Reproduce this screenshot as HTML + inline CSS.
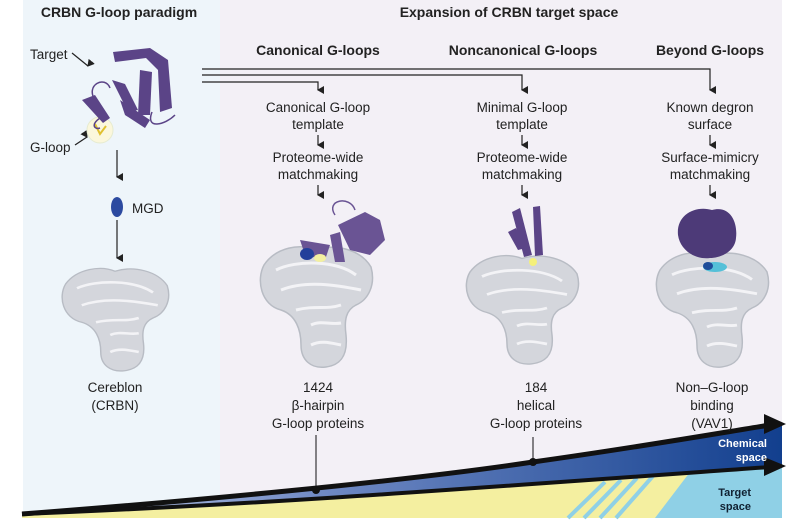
<!DOCTYPE html>
<html><head><meta charset="utf-8"><style>
body{margin:0;background:#fff;}
svg{display:block;font-family:"Liberation Sans",sans-serif;}
</style></head><body>
<svg width="800" height="524" viewBox="0 0 800 524" xmlns="http://www.w3.org/2000/svg">
<defs>
<marker id="ah" markerWidth="8" markerHeight="8" refX="4" refY="6" orient="auto" markerUnits="userSpaceOnUse"><path d="M0,0 L8,0 L4,7 z" fill="#222"/></marker>
<g id="blob">
<path d="M-52,-40 C-40,-58 -15,-62 0,-55 C20,-62 45,-55 55,-38 C60,-20 52,-5 40,0 C30,5 28,15 30,30 C32,50 25,60 10,62 C-5,64 -15,55 -15,40 C-15,25 -20,10 -35,5 C-55,0 -60,-25 -52,-40 z" fill="#d4d6dc" stroke="#b8bcc4" stroke-width="1.5"/>
<path d="M-40,-35 C-20,-45 20,-45 40,-30 M-35,-15 C-10,-25 20,-20 45,-15 M-20,5 C0,0 10,5 25,0 M-5,20 C5,15 15,20 25,18 M-5,40 C5,35 15,38 25,40" fill="none" stroke="#f3f3f6" stroke-width="3"/>
</g>
<linearGradient id="bg" x1="0" x2="1" y1="0" y2="0"><stop offset="0" stop-color="#c8d0ea"/><stop offset="0.4" stop-color="#6f89c4"/><stop offset="1" stop-color="#123f8e"/></linearGradient>
</defs>
<rect x="23" y="0" width="197" height="518" fill="#eef5fa"/>
<rect x="220" y="0" width="562" height="518" fill="#f3f0f6"/>

<!-- bottom wedge -->
<path d="M22,514 C250,505 450,490 780,465 L780,518 L22,518 z" fill="#f4efa0"/>
<path d="M655,518 L782,518 L782,465 L690,472 z" fill="#8fd0e6"/>
<g stroke="#8fd0e6" stroke-width="4"><line x1="568" y1="518" x2="605" y2="482"/><line x1="584" y1="518" x2="621" y2="480"/><line x1="600" y1="518" x2="637" y2="478"/><line x1="616" y1="518" x2="653" y2="476"/></g>
<path d="M22,514 C180,502 400,482 533,462 C640,447 720,432 782,424 L782,466 C450,490 250,505 22,514 z" fill="url(#bg)"/>
<path d="M22,514 C180,502 400,482 533,462 C640,447 720,433 770,425" fill="none" stroke="#111" stroke-width="5"/>
<path d="M764,414 L786,424 L764,434 z" fill="#111"/>
<path d="M22,514 C250,505 450,490 770,467" fill="none" stroke="#111" stroke-width="4"/>
<path d="M764,457 L786,466 L764,476 z" fill="#111"/>
<text x="767" y="447" font-size="11" font-weight="bold" fill="#fff" text-anchor="end">Chemical</text>
<text x="767" y="461" font-size="11" font-weight="bold" fill="#fff" text-anchor="end">space</text>
<text x="751" y="496" font-size="11" font-weight="bold" fill="#123" text-anchor="end">Target</text>
<text x="751" y="510" font-size="11" font-weight="bold" fill="#123" text-anchor="end">space</text>
<line x1="316" y1="435" x2="316" y2="490" stroke="#111" stroke-width="1"/><circle cx="316" cy="490" r="4" fill="#111"/>
<line x1="533" y1="437" x2="533" y2="462" stroke="#111" stroke-width="1"/><circle cx="533" cy="462" r="4" fill="#111"/>

<!-- headings -->
<g font-weight="bold" fill="#222" text-anchor="middle" font-size="14">
<text x="119" y="17">CRBN G-loop paradigm</text>
<text x="509" y="17">Expansion of CRBN target space</text>
<text x="318" y="55">Canonical G-loops</text>
<text x="523" y="55">Noncanonical G-loops</text>
<text x="710" y="55">Beyond G-loops</text>
</g>

<!-- connector lines -->
<g fill="none" stroke="#222" stroke-width="1.2">
<path d="M202,69 L710,69 L710,90" marker-end="url(#ah)"/>
<path d="M202,75 L522,75 L522,90" marker-end="url(#ah)"/>
<path d="M202,82 L318,82 L318,90" marker-end="url(#ah)"/>
<line x1="318" y1="135" x2="318" y2="145" marker-end="url(#ah)"/>
<line x1="522" y1="135" x2="522" y2="145" marker-end="url(#ah)"/>
<line x1="710" y1="135" x2="710" y2="145" marker-end="url(#ah)"/>
<line x1="318" y1="185" x2="318" y2="195" marker-end="url(#ah)"/>
<line x1="522" y1="185" x2="522" y2="195" marker-end="url(#ah)"/>
<line x1="710" y1="185" x2="710" y2="195" marker-end="url(#ah)"/>
<line x1="117" y1="150" x2="117" y2="177" marker-end="url(#ah)"/>
<line x1="117" y1="220" x2="117" y2="258" marker-end="url(#ah)"/>
<path d="M72,53 L88,66" marker-end="url(#ah)"/>
<path d="M75,145 L87,137" marker-end="url(#ah)"/>
</g>

<g font-size="13.5" fill="#222" text-anchor="middle">
<text x="318" y="112">Canonical G-loop</text><text x="318" y="129">template</text>
<text x="318" y="162">Proteome-wide</text><text x="318" y="179">matchmaking</text>
<text x="522" y="112">Minimal G-loop</text><text x="522" y="129">template</text>
<text x="522" y="162">Proteome-wide</text><text x="522" y="179">matchmaking</text>
<text x="710" y="112">Known degron</text><text x="710" y="129">surface</text>
<text x="710" y="162">Surface-mimicry</text><text x="710" y="179">matchmaking</text>
<text x="30" y="59" text-anchor="start">Target</text>
<text x="30" y="152" text-anchor="start">G-loop</text>
<text x="132" y="213" text-anchor="start">MGD</text>
<text x="115" y="392">Cereblon</text><text x="115" y="410">(CRBN)</text>
<text x="318" y="392">1424</text><text x="318" y="410">β-hairpin</text><text x="318" y="428">G-loop proteins</text>
<text x="536" y="392">184</text><text x="536" y="410">helical</text><text x="536" y="428">G-loop proteins</text>
<text x="712" y="392">Non–G-loop</text><text x="712" y="410">binding</text><text x="712" y="428">(VAV1)</text>
</g>

<!-- top-left target protein -->
<circle cx="100" cy="130" r="13" fill="#fbf7dc" stroke="#e6ebd0"/>
<path d="M95,124 l5,10 l6,-8" fill="none" stroke="#e0c030" stroke-width="2"/>
<g fill="#5b4487">
<path d="M113,52 L150,48 L168,60 L172,108 L160,112 L158,70 L146,58 L115,62 z"/>
<path d="M140,70 L152,72 L150,115 L138,115 z"/>
<path d="M112,80 L125,84 L138,110 L128,112 z"/>
<path d="M120,100 L150,120 L145,128 L125,115 z"/>
<path d="M82,100 L95,95 L110,118 L103,123 z"/>
</g>
<path d="M95,100 C85,85 105,75 110,88 M100,118 C90,125 95,130 100,128 M152,112 C145,130 165,125 175,115" fill="none" stroke="#5b4487" stroke-width="1.5"/>
<ellipse cx="117" cy="207" rx="6" ry="10" fill="#2c4aa0"/>

<!-- blobs -->
<use href="#blob" transform="translate(115,318) scale(0.95,0.85)"/>
<use href="#blob" transform="translate(316,305) scale(1,1)"/>
<use href="#blob" transform="translate(522,308) scale(1,0.9)"/>
<use href="#blob" transform="translate(712,308) scale(1,0.95)"/>

<!-- canonical purple -->
<g fill="#6a5494">
<path d="M338,225 L365,212 L380,220 L385,240 L370,255 L350,250 z"/>
<path d="M330,235 L340,232 L345,262 L335,262 z"/>
<path d="M300,240 L330,245 L325,260 L305,255 z"/>
</g>
<path d="M335,215 C325,200 350,195 355,210" fill="none" stroke="#6a5494" stroke-width="1.5"/>
<ellipse cx="307" cy="254" rx="7" ry="6" fill="#223f9a"/>
<ellipse cx="320" cy="258" rx="6" ry="4" fill="#f3f0a0"/>
<!-- noncanonical purple -->
<g fill="#5b4487">
<path d="M512,212 L520,208 L532,255 L524,257 z"/>
<path d="M533,207 L540,206 L543,255 L535,256 z"/>
<path d="M508,232 L516,228 L526,248 L518,250 z"/>
</g>
<circle cx="533" cy="262" r="4" fill="#f4f07a"/>
<!-- beyond purple -->
<path d="M678,235 C676,215 695,205 712,210 C730,205 738,222 736,238 C735,252 720,258 710,258 C695,260 680,250 678,235 z" fill="#4d3a78"/>
<ellipse cx="715" cy="267" rx="12" ry="5" fill="#55c0d8"/>
<ellipse cx="708" cy="266" rx="5" ry="4" fill="#1f4d9a"/>
</svg>
</body></html>
